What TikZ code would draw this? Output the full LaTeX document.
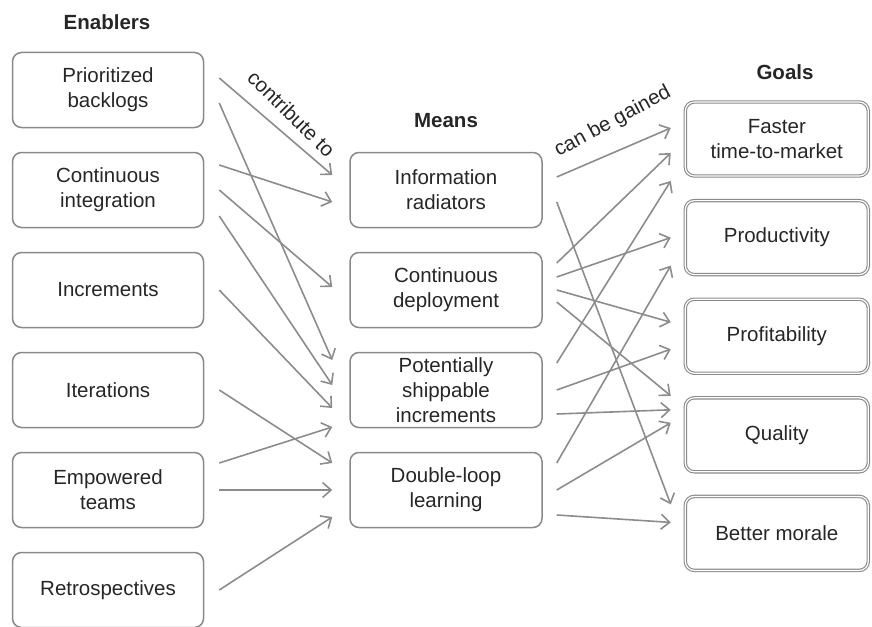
\documentclass[tikz,border=0pt]{standalone}
\usepackage{fontspec}
\setmainfont{Liberation Sans}
\usetikzlibrary{arrows.meta, positioning}
\definecolor{boxgray}{HTML}{8A8A8A}
\definecolor{arrgray}{HTML}{8C8C8C}
\definecolor{txtgray}{HTML}{262626}
\tikzset{
  box/.style  = {draw=boxgray, rounded corners=9pt, align=center, line width=1.5pt,
                 minimum width=191pt, minimum height=75pt, text=txtgray, inner sep=2pt,
                 font=\fontsize{20.5}{25}\selectfont},
  enb/.style  = {box},
  mean/.style = {box, minimum width=192pt},
  goal/.style = {box, minimum width=183pt, minimum height=74pt, line width=1.1pt,
                 double=white, double distance=1.2pt},
  hdr/.style  = {font=\fontsize{20.5}{25}\selectfont\bfseries, text=txtgray},
  arr/.style  = {-{Straight Barb[length=8.5pt, width=15pt]}, line width=1.6pt, draw=arrgray},
  elab/.style = {font=\fontsize{20.5}{25}\selectfont, text=txtgray, sloped, midway},
}

\begin{document}
\begin{tikzpicture}[x=1pt, y=1pt, node distance=23.5pt and 145pt]
\useasboundingbox (0,0) rectangle (872,-626);

% headers
\node[hdr] (enh) at (107,-22)  {Enablers};
\node[hdr] (mnh) at (446,-121) {Means};
\node[hdr] (glh) at (785,-72)  {Goals};

% enablers
\node[enb] (pb) at (108,-90) {Prioritized\\backlogs};
\node[enb, below=of pb]  (ci)  {Continuous\\integration};
\node[enb, below=of ci]  (inc) {Increments};
\node[enb, below=of inc] (it)  {Iterations};
\node[enb, below=of it]  (et)  {Empowered\\teams};
\node[enb, below=of et]  (ret) {Retrospectives};

% means
\node[mean, right=of ci]  (ir)  {Information\\radiators};
\node[mean, right=of inc] (cd)  {Continuous\\deployment};
\node[mean, right=of it]  (psi) {Potentially\\shippable\\increments};
\node[mean, right=of et]  (dl)  {Double-loop\\learning};

% goals
\node[goal, right=142pt of ir, yshift=51pt] (ftm) {Faster\\time-to-market};
\node[goal, below=of ftm] (pr) {Productivity};
\node[goal, below=of pr]  (pf) {Profitability};
\node[goal, below=of pf]  (qu) {Quality};
\node[goal, below=of qu]  (bm) {Better morale};

% enablers -> means
\draw[arr] ([xshift=15pt,yshift=12pt]pb.east) -- ([xshift=-17pt,yshift=15pt]ir.west)
  node[elab, above=8pt, rotate=-4, pos=0.52] {contribute to};
\draw[arr] ([xshift=15pt,yshift=-13pt]pb.east) -- ([xshift=-17pt,yshift=30pt]psi.west);
\draw[arr] ([xshift=15pt,yshift=25pt]ci.east)  -- ([xshift=-17pt,yshift=-12pt]ir.west);
\draw[arr] ([xshift=15pt]ci.east)              -- ([xshift=-17pt,yshift=3pt]cd.west);
\draw[arr] ([xshift=15pt,yshift=-26pt]ci.east) -- ([xshift=-17pt,yshift=5pt]psi.west);
\draw[arr] ([xshift=15pt]inc.east)             -- ([xshift=-17pt,yshift=-18pt]psi.west);
\draw[arr] ([xshift=15pt]it.east)              -- ([xshift=-17pt,yshift=27pt]dl.west);
\draw[arr] ([xshift=15pt,yshift=27pt]et.east)  -- ([xshift=-17pt,yshift=-37pt]psi.west);
\draw[arr] ([xshift=15pt]et.east)              -- ([xshift=-17pt]dl.west);
\draw[arr] ([xshift=15pt]ret.east)             -- ([xshift=-17pt,yshift=-27pt]dl.west);

% means -> goals
\draw[arr] ([xshift=14pt,yshift=13pt]ir.east)  -- ([xshift=-14pt,yshift=11pt]ftm.west)
  node[elab, above=15pt, rotate=5, pos=0.6] {can be gained};
\draw[arr] ([xshift=14pt,yshift=-12pt]ir.east) -- ([xshift=-14pt,yshift=29pt]bm.west);
\draw[arr] ([xshift=14pt,yshift=27pt]cd.east)  -- ([xshift=-14pt,yshift=-14pt]ftm.west);
\draw[arr] ([xshift=14pt,yshift=13pt]cd.east)  -- ([xshift=-14pt]pr.west);
\draw[arr] ([xshift=14pt]cd.east)              -- ([xshift=-14pt,yshift=14pt]pf.west);
\draw[arr] ([xshift=14pt,yshift=-12pt]cd.east) -- ([xshift=-14pt,yshift=39pt]qu.west);
\draw[arr] ([xshift=14pt,yshift=27pt]psi.east) -- ([xshift=-14pt,yshift=-42pt]ftm.west);
\draw[arr] ([xshift=14pt]psi.east)             -- ([xshift=-14pt,yshift=-13pt]pf.west);
\draw[arr] ([xshift=14pt,yshift=-24pt]psi.east) -- ([xshift=-14pt,yshift=25pt]qu.west);
\draw[arr] ([xshift=14pt,yshift=27pt]dl.east)  -- ([xshift=-14pt,yshift=-28pt]pr.west);
\draw[arr] ([xshift=14pt]dl.east)              -- ([xshift=-14pt,yshift=12pt]qu.west);
\draw[arr] ([xshift=14pt,yshift=-25pt]dl.east) -- ([xshift=-14pt,yshift=11pt]bm.west);
\end{tikzpicture}
\end{document}
